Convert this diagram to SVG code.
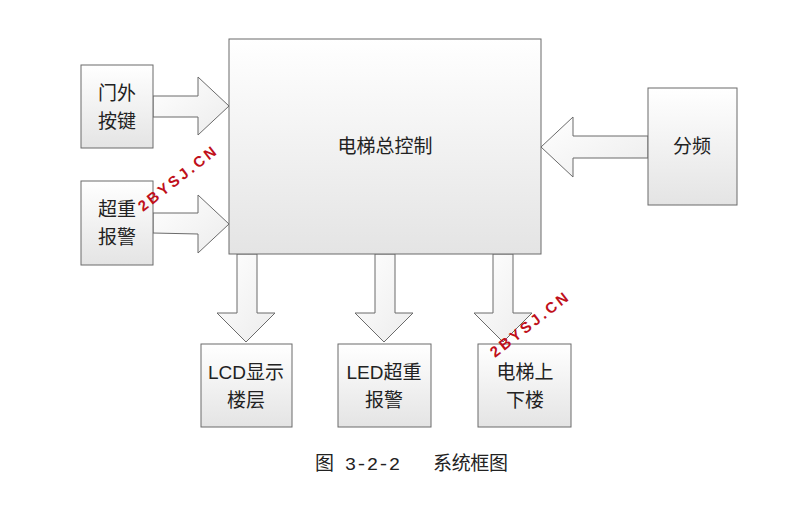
<svg xmlns="http://www.w3.org/2000/svg" width="802" height="521" viewBox="0 0 802 521">
<defs>
<linearGradient id="g" x1="0" y1="0" x2="0" y2="1"><stop offset="0" stop-color="#ffffff"/><stop offset="1" stop-color="#e4e4e4"/></linearGradient>
<linearGradient id="ga" x1="0" y1="0" x2="1" y2="1"><stop offset="0" stop-color="#ffffff"/><stop offset="1" stop-color="#ececec"/></linearGradient>
</defs>
<style>
.b{fill:url(#g);stroke:#6b6b6b;stroke-width:1}
.a{fill:url(#ga);stroke:#6b6b6b;stroke-width:1}
.t{font-family:"Liberation Sans","Noto Sans CJK SC",sans-serif;font-size:19px;fill:#222;text-anchor:middle}
.w{font-family:"Liberation Sans",sans-serif;font-size:15px;font-weight:bold;fill:#c0101a;letter-spacing:3px}
</style>
<rect width="802" height="521" fill="#fff"/>
<g id="connectors">
<polygon class="a" points="153,96 198,96 198,77 229,106 198,135 198,117 153,117"/>
<polygon class="a" points="153,213 198,213 198,195 229,224 198,253 198,234 153,233"/>
<polygon class="a" points="648,136 573,136 573,117 541,147 573,177 573,158 648,158"/>
<polygon class="a" points="237,254 257,254 257,313 275,313 246,342 217,313 237,313"/>
<polygon class="a" points="375,254 395,254 395,313 413,313 384,342 355,313 375,313"/>
<polygon class="a" points="493,254 513,254 513,313 532,313 503,342 474,313 493,313"/>
</g>
<g id="main"><rect class="b" x="229" y="39" width="312" height="215"/><text class="t" x="385" y="153">电梯总控制</text></g>
<g id="menwai"><rect class="b" x="81" y="65" width="72" height="83"/><text class="t" x="117" y="100">门外</text><text class="t" x="117" y="128">按键</text></g>
<g id="chaozhong"><rect class="b" x="81" y="181" width="72" height="84"/><text class="t" x="117" y="216">超重</text><text class="t" x="117" y="244">报警</text></g>
<g id="fenpin"><rect class="b" x="648" y="88" width="89" height="117"/><text class="t" x="692" y="153">分频</text></g>
<g id="lcd"><rect class="b" x="201" y="344" width="91" height="83"/><text class="t" x="246" y="379">LCD显示</text><text class="t" x="246" y="407">楼层</text></g>
<g id="led"><rect class="b" x="338" y="344" width="93" height="83"/><text class="t" x="384" y="379">LED超重</text><text class="t" x="384" y="407">报警</text></g>
<g id="dianti"><rect class="b" x="478" y="344" width="93" height="83"/><text class="t" x="525" y="379">电梯上</text><text class="t" x="525" y="407">下楼</text></g>
<text class="w" transform="translate(143,212) rotate(-38)">2BYSJ.CN</text>
<text class="w" transform="translate(495,358) rotate(-38)">2BYSJ.CN</text>
<text x="315" y="470" textLength="193" lengthAdjust="spacing" style="font-family:'Liberation Mono','Noto Sans CJK SC',monospace;font-size:19px;fill:#222" xml:space="preserve">图 3-2-2   系统框图</text>
</svg>
